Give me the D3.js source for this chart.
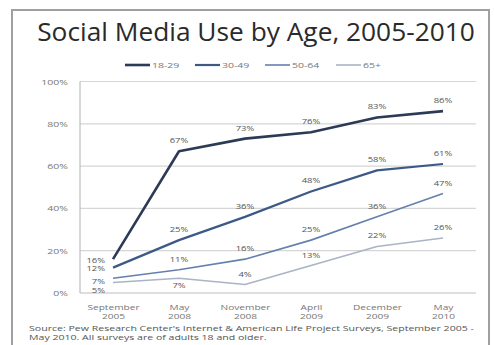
<!DOCTYPE html>
<html><head><meta charset="utf-8">
<script src="https://cdn.jsdelivr.net/npm/d3@7"></script>
<style>body{margin:0;background:#fff}svg{display:block}</style>
</head><body>
<script>
const categories = [["September","2005"],["May","2008"],["November","2008"],["April","2009"],["December","2009"],["May","2010"]];
const seriesNames = ["18-29","30-49","50-64","65+"];
const s1829 = [16,67,73,76,83,86];
const s3049 = [12,25,36,48,58,61];
const s5064 = [7,11,16,25,36,47];
const s65 = [5,7,4,13,22,26];
const yTicks = [0,20,40,60,80,100];
const colors = ["#2c3a56","#3d5985","#6480ad","#aab4c6"];
const widths = [2.6,2.2,1.6,1.6];
const FONT="Open Sans, sans-serif";

const W=494,H=345;
const svg=d3.select("body").append("svg").attr("width",W).attr("height",H);
svg.append("rect").attr("x",12).attr("y",10).attr("width",477).attr("height",345).attr("fill","#fff").attr("stroke","#a0a0a0").attr("stroke-width",2);

function txt(parent,x,y,str,size,sx,anchor,fill){
  const g=parent.append("g").attr("transform",`translate(${x},${y}) scale(${sx},1)`);
  return g.append("text").attr("x",0).attr("y",0).attr("text-anchor",anchor||"start")
    .attr("font-family",FONT).attr("font-size",size).attr("fill",fill||"#666").text(str);
}

svg.append("text").attr("x",256).attr("y",41).attr("text-anchor","middle")
  .attr("font-family",FONT).attr("font-size",26.3).attr("fill","#2a2a2a")
  .text("Social Media Use by Age, 2005-2010");

const L=80,R=476,T=81.5,B=293;
const x=d3.scalePoint().domain(d3.range(categories.length)).range([L,R]).padding(0.5);
const y=d3.scaleLinear().domain([0,100]).range([B,T]);

const g=svg.append("g");
g.selectAll("line.grid").data(yTicks).join("line").attr("class","grid")
  .attr("x1",L).attr("x2",R).attr("y1",d=>y(d)).attr("y2",d=>y(d))
  .attr("stroke",d=>d===0?"#bdbdbd":"#d6d6d6").attr("stroke-width",1.2);
g.append("line").attr("x1",L).attr("x2",L).attr("y1",T).attr("y2",B).attr("stroke","#bdbdbd").attr("stroke-width",1.2);

const yAxis=d3.axisLeft(y).tickValues(yTicks).tickFormat("").tickSize(0);
const ya=svg.append("g").attr("transform",`translate(${L},0)`).call(yAxis);
ya.select(".domain").remove();
ya.selectAll(".tick").each(function(d){
  txt(d3.select(this),-12,2.5,d+"%",7,1.5,"end","#777");
});

const xa=svg.append("g").attr("transform",`translate(0,${B})`).call(d3.axisBottom(x).tickSize(0).tickFormat(""));
xa.select(".domain").remove();
xa.selectAll(".tick").each(function(d){
  txt(d3.select(this),0,16.5,categories[d][0],7,1.45,"middle","#777");
  txt(d3.select(this),0,26,categories[d][1],7,1.45,"middle","#777");
});

const series=[s1829,s3049,s5064,s65];
const line=d3.line().x((d,i)=>x(i)).y(d=>y(d));
for(let k=series.length-1;k>=0;k--){
  svg.append("path").datum(series[k]).attr("d",line).attr("fill","none")
    .attr("stroke",colors[k]).attr("stroke-width",widths[k]).attr("stroke-linejoin","round");
}
const leftDy=[1,1,3,8];
series.forEach((s,k)=>{
  s.forEach((v,i)=>{
    let tx=x(i),ty=y(v)-8,anchor="middle";
    if(i===0){tx=x(i)-8;ty=y(v)+2.5+leftDy[k];anchor="end";}
    else if(k===3&&i===1){ty=y(v)+10;}
    txt(svg,tx,ty,v+"%",7,1.35,anchor,"#555");
  });
});

const legX=[125,195,265,336];
seriesNames.forEach((n,k)=>{
  svg.append("line").attr("x1",legX[k]).attr("x2",legX[k]+25).attr("y1",65).attr("y2",65)
    .attr("stroke",colors[k]).attr("stroke-width",widths[k]);
  txt(svg,legX[k]+27,67.5,n,7,1.5,"start","#777");
});

const srcLines=["Source:  Pew Research Center's Internet & American Life Project Surveys, September 2005 -","May 2010. All surveys are of adults 18 and older."];
const sg=svg.append("g");
const st=sg.append("text").attr("font-family",FONT).attr("font-size",7.5).attr("fill","#555");
st.append("tspan").attr("x",0).attr("y",0).text(srcLines[0]);
st.append("tspan").attr("x",0).attr("y",10).text(srcLines[1]);
const w0=st.select("tspan").node().getComputedTextLength();
sg.attr("transform",`translate(29,330.5) scale(${446/w0},1)`);
</script>
</body></html>
